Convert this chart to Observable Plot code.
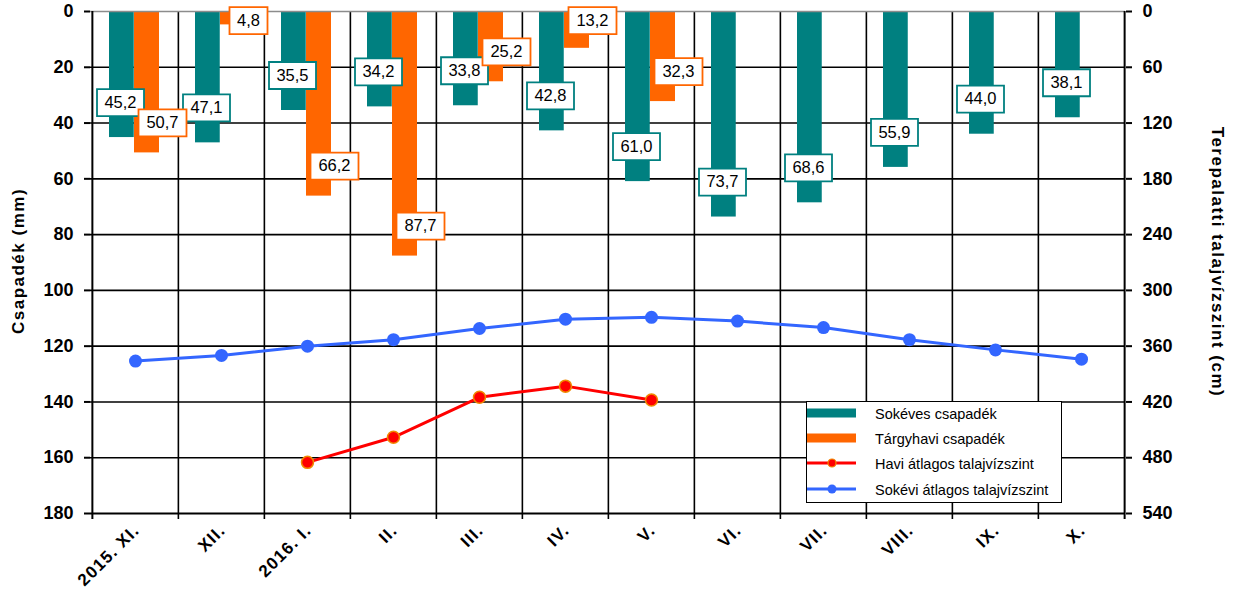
<!DOCTYPE html>
<html>
<head>
<meta charset="utf-8">
<script src="https://cdn.jsdelivr.net/npm/d3@7"></script>
<script src="https://cdn.jsdelivr.net/npm/@observablehq/plot@0.6"></script>
<style>
  body { margin: 0; background: #fff; }
  #wrap { position: relative; width: 1240px; height: 596px; font-family: "Liberation Sans", Arial, sans-serif; overflow: hidden; }
  #wrap svg { position: absolute; left: 0; top: 0; }
  .ytitle { position: absolute; font-weight: bold; font-size: 17px; letter-spacing: 1.5px; white-space: nowrap; color: #000; }
  #legend { position: absolute; left: 806px; top: 401px; width: 254px; height: 100px; border: 1px solid #000; background: #fff; }
  .lrow { position: absolute; left: 0; height: 16px; width: 254px; }
  .lrow svg { position: absolute; left: 14px; top: 2px; }
  .lrow span { position: absolute; left: 68px; top: -1px; font-size: 14.5px; letter-spacing: 0px; color: #000; white-space: nowrap; }
</style>
</head>
<body>
<div id="wrap"></div>
<script>
// ---- data ----
const months = ["2015. XI.", "XII.", "2016. I.", "II.", "III.", "IV.", "V.", "VI.", "VII.", "VIII.", "IX.", "X."];
const longTermPrecip = [45.2, 47.1, 35.5, 34.2, 33.8, 42.8, 61.0, 73.7, 68.6, 55.9, 44.0, 38.1];
const monthPrecip = [50.7, 4.8, 66.2, 87.7, 25.2, 13.2, 32.3, null, null, null, null, null];
const monthGroundwater = [null, null, 485, 458, 415, 403, 418, null, null, null, null, null];
const longTermGroundwater = [376, 370, 360, 353, 341, 331, 329, 333, 340, 353, 364, 374];
const mmTicks = [0, 20, 40, 60, 80, 100, 120, 140, 160, 180];
const cmTicks = [0, 60, 120, 180, 240, 300, 360, 420, 480, 540];
const seriesNames = ["Sokéves csapadék", "Tárgyhavi csapadék", "Havi átlagos talajvízszint", "Sokévi átlagos talajvízszint"];

const teal = "#008080", orange = "#FF6600", red = "#FF0000", blue = "#3366FF";
const cmPerMm = cmTicks[cmTicks.length - 1] / mmTicks[mmTicks.length - 1];

const W = 1240, H = 596, mL = 90, mR = 115, mT = 11, mB = 83;
const bw = (W - mL - mR) / months.length;

const tealData = months.map((m, i) => ({month: m, value: longTermPrecip[i]}));
const orangeData = months.map((m, i) => ({month: m, value: monthPrecip[i]})).filter(d => d.value != null);
const redData = months.map((m, i) => ({month: m, cm: monthGroundwater[i]})).filter(d => d.cm != null);
const blueData = months.map((m, i) => ({month: m, cm: longTermGroundwater[i]}));

const fmt = v => v.toFixed(1).replace(".", ",");
const boxSymbol = (w, h) => ({draw(ctx) { ctx.rect(-w / 2, -h / 2, w, h); }});

const tealDx = -15, tealDy = -35, orangeDx = 27, orangeDy = -30;
const orangeY = d => Math.max(d.value, 14);

const font = "Liberation Sans, Arial, sans-serif";

const chart = Plot.plot({
  width: W, height: H,
  marginLeft: mL, marginRight: mR, marginTop: mT, marginBottom: mB,
  style: {fontFamily: font, background: "transparent", color: "#000", overflow: "visible"},
  x: {type: "band", domain: months, padding: 0, axis: null},
  y: {domain: [0, 180], reverse: true, axis: null},
  marks: [
    // gridlines
    Plot.ruleY(mmTicks.filter(v => v > 0 && v < 180), {stroke: "#000", strokeWidth: 1.6}),
    Plot.ruleX(months.slice(1), {x: d => d, dx: -bw / 2, stroke: "#000", strokeWidth: 1.6, insetBottom: -6}),
    // bars
    Plot.barY(tealData, {x: "month", y1: 0, y2: "value", fill: teal, insetLeft: 17, insetRight: bw - 17 - 25}),
    Plot.barY(orangeData, {x: "month", y1: 0, y2: "value", fill: orange, insetLeft: 42, insetRight: 19}),
    // frame lines
    Plot.ruleY([0], {stroke: "#8c8c8c", strokeWidth: 1.6}),
    Plot.ruleY([180], {stroke: "#000", strokeWidth: 2}),
    Plot.ruleX([months[0]], {x: d => d, dx: -bw / 2, stroke: "#000", strokeWidth: 2, insetBottom: -6}),
    Plot.ruleX([months[months.length - 1]], {x: d => d, dx: bw / 2, stroke: "#000", strokeWidth: 2, insetBottom: -6}),
    // axes
    Plot.axisY(mmTicks, {anchor: "left", tickSize: 6, tickPadding: 11, strokeWidth: 2, fontSize: 18, fontWeight: "bold", label: null, tickFormat: d => String(d)}),
    Plot.axisY(cmTicks.map(c => c / cmPerMm), {anchor: "right", tickSize: 6, tickPadding: 11, strokeWidth: 2, fontSize: 18, fontWeight: "bold", label: null, tickFormat: d => String(Math.round(d * cmPerMm))}),
    Plot.axisX(months, {anchor: "bottom", tickSize: 0, tickPadding: 14, tickRotate: -45, fontSize: 17, fontWeight: "bold", label: null, dx: 1}),
    // lines
    Plot.line(blueData, {x: "month", y: d => d.cm / cmPerMm, stroke: blue, strokeWidth: 3}),
    Plot.dot(blueData, {x: "month", y: d => d.cm / cmPerMm, r: 6.5, fill: blue}),
    Plot.line(redData, {x: "month", y: d => d.cm / cmPerMm, stroke: red, strokeWidth: 3}),
    Plot.dot(redData, {x: "month", y: d => d.cm / cmPerMm, r: 6, fill: red, stroke: "#F08A00", strokeWidth: 1.5}),
    // label boxes
    Plot.dot(tealData, {x: "month", y: "value", dx: tealDx, dy: tealDy, r: 10, symbol: boxSymbol(47, 27), fill: "#fff", stroke: teal, strokeWidth: 1.8}),
    Plot.text(tealData, {x: "month", y: "value", dx: tealDx, dy: tealDy, text: d => fmt(d.value), fontSize: 16.5, fill: "#000"}),
    Plot.dot(orangeData.filter(d => fmt(d.value).length > 3), {x: "month", y: orangeY, dx: orangeDx, dy: orangeDy, r: 10, symbol: boxSymbol(48, 27), fill: "#fff", stroke: orange, strokeWidth: 1.8}),
    Plot.dot(orangeData.filter(d => fmt(d.value).length <= 3), {x: "month", y: orangeY, dx: orangeDx, dy: orangeDy, r: 10, symbol: boxSymbol(38, 27), fill: "#fff", stroke: orange, strokeWidth: 1.8}),
    Plot.text(orangeData, {x: "month", y: orangeY, dx: orangeDx, dy: orangeDy, text: d => fmt(d.value), fontSize: 16.5, fill: "#000"})
  ]
});

chart.querySelectorAll('g[aria-label="x-axis tick label"]').forEach(g => g.setAttribute("letter-spacing", "1.2"));

const wrap = document.getElementById("wrap");
wrap.appendChild(chart);

// axis titles
const lt = document.createElement("div");
lt.className = "ytitle";
lt.textContent = "Csapadék (mm)";
lt.style.left = "19px"; lt.style.top = "261px";
lt.style.transform = "translate(-50%,-50%) rotate(-90deg)";
wrap.appendChild(lt);

const rt = document.createElement("div");
rt.className = "ytitle";
rt.textContent = "Terepalatti talajvízszint (cm)";
rt.style.left = "1217px"; rt.style.top = "262px";
rt.style.transform = "translate(-50%,-50%) rotate(90deg)";
wrap.appendChild(rt);

// legend
const legend = document.createElement("div");
legend.id = "legend";
const swatches = [
  `<svg width="50" height="12"><rect x="0" y="1.5" width="49" height="9" fill="${teal}"/></svg>`,
  `<svg width="50" height="12"><rect x="0" y="1.5" width="49" height="9" fill="${orange}"/></svg>`,
  `<svg width="50" height="12"><line x1="0" y1="6" x2="49" y2="6" stroke="${red}" stroke-width="3"/><circle cx="25" cy="6" r="4" fill="${red}" stroke="#F08A00" stroke-width="1.2"/></svg>`,
  `<svg width="50" height="12"><line x1="0" y1="6" x2="49" y2="6" stroke="${blue}" stroke-width="3"/><circle cx="25" cy="6" r="4.5" fill="${blue}"/></svg>`
];
const rowTops = [5, 30, 55, 81];
seriesNames.forEach((name, i) => {
  const row = document.createElement("div");
  row.className = "lrow";
  row.style.top = rowTops[i] + "px";
  row.innerHTML = swatches[i] + `<span>${name}</span>`;
  legend.appendChild(row);
});
wrap.appendChild(legend);
</script>
</body>
</html>
